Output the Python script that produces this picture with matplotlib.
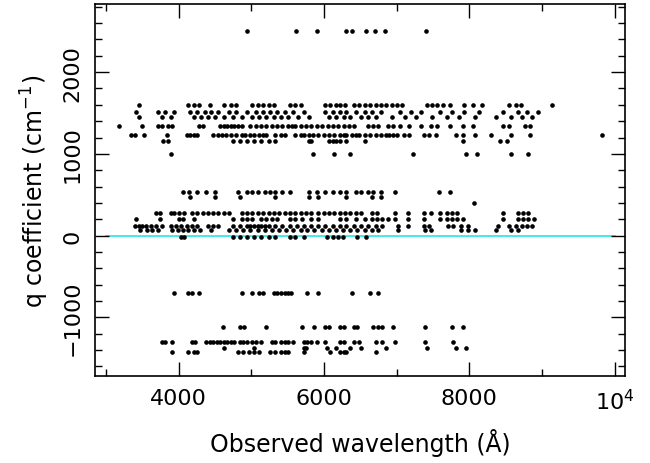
import numpy as np
import matplotlib
matplotlib.use("Agg")
from matplotlib import pyplot as plt
from matplotlib.ticker import MultipleLocator

# Observed wavelengths (Angstrom), grouped by the q coefficient (cm^-1) of each row
wave_q2500 = [4940, 5610, 5910, 6300, 6380, 6580, 6700, 6840, 7400]

wave_q1600 = [3450, 4130, 4210, 4280, 4430, 4620, 4720, 4790, 5010, 5090, 5160, 5240,
              5310, 5530, 5600, 5680, 6020, 6090, 6170, 6220, 6290, 6410, 6480, 6560,
              6630, 6710, 6780, 6850, 6930, 7000, 7070, 7420, 7490, 7560, 7640, 7730,
              7930, 8050, 8180, 8540, 8640, 8710, 9140]

wave_q1510 = [3420, 3720, 3820, 3940, 4160, 4260, 4360, 4450, 4550, 4700, 4790, 4940,
              5060, 5160, 5260, 5360, 5460, 5580, 5730, 6020, 6120, 6220, 6310, 6440,
              6560, 6660, 6780, 7050, 7200, 7340, 7590, 7760, 7930, 8130, 8470, 8670,
              8790, 8940]

wave_q1450 = [3450, 3770, 3890, 4210, 4310, 4400, 4500, 4620, 4750, 4870, 5010, 5110,
              5210, 5310, 5410, 5510, 5650, 5800, 6070, 6170, 6270, 6360, 6510, 6610,
              6710, 6930, 7120, 7270, 7490, 7690, 7860, 8080, 8370, 8570, 8720, 8860]

wave_q1345 = [3180, 3500, 3720, 3770, 3860, 3910, 4280, 4330, 4570, 4620, 4670, 4720,
              4770, 4820, 4870, 4990, 5060, 5140, 5210, 5290, 5360, 5430, 5510, 5560,
              5600, 5680, 5750, 5820, 5900, 5970, 6050, 6120, 6190, 6270, 6340, 6410,
              6610, 6680, 6750, 6880, 6950, 7050, 7170, 7340, 7470, 7560, 7730, 7910,
              8050, 8470, 8540, 8760, 8840]

wave_q1225 = [3350, 3400, 3520, 3840, 4110, 4160, 4210, 4260, 4480, 4550, 4600, 4650,
              4720, 4790, 4870, 4920, 4990, 5040, 5110, 5160, 5210, 5330, 5410, 5460,
              5600, 5680, 5730, 5800, 5850, 5920, 6000, 6070, 6140, 6220, 6270, 6310,
              6390, 6440, 6480, 6560, 6630, 6710, 6780, 6850, 6900, 6950, 7000, 7100,
              7170, 7370, 7440, 7540, 7810, 7910, 8080, 8300, 8570, 8840, 9820]

wave_q1160 = [3790, 3860, 4750, 4840, 4940, 5040, 5140, 5240, 5330, 5800, 5820, 6070,
              6120, 6170, 6220, 6310, 6570, 7910, 8420, 8520]

wave_q1000 = [3890, 5850, 6140, 6360, 7220, 7950, 8100, 8570, 8810]

wave_q530 = [4060, 4150, 4260, 4380, 4500, 4820, 4940, 5010, 5090, 5190, 5260, 5330,
             5430, 5530, 5800, 5900, 6020, 6120, 6220, 6310, 6440, 6510, 6610, 6680,
             6780, 6980, 7580, 7730]

wave_q470 = [4160, 4500, 4840, 5330, 5800, 5920, 6310, 6660, 6780]

wave_q400 = [8070]

wave_q275 = [3690, 3740, 3890, 3940, 4010, 4080, 4180, 4260, 4330, 4400, 4480, 4550,
             4620, 4700, 4870, 4940, 5010, 5090, 5160, 5240, 5310, 5380, 5460, 5530,
             5600, 5680, 5750, 5820, 5920, 6000, 6070, 6140, 6220, 6290, 6360, 6440,
             6510, 6660, 6730, 6980, 7150, 7370, 7470, 7590, 7690, 7760, 7830, 8470,
             8670, 8740, 8810]

wave_q205 = [3420, 3740, 4010, 4060, 4210, 4750, 4870, 4940, 5010, 5140, 5210, 5290,
             5360, 5530, 5600, 5700, 5820, 5920, 6220, 6310, 6440, 6560, 6660, 6730,
             6800, 6880, 6980, 7150, 7370, 7590, 7690, 7760, 7830, 7910, 8470, 8670,
             8740, 8810, 8890]

wave_q120 = [3400, 3450, 3500, 3550, 3620, 3690, 3770, 3890, 3960, 4030, 4110, 4180,
             4260, 4400, 4480, 4550, 4750, 4840, 4940, 4990, 5040, 5090, 5140, 5190,
             5240, 5330, 5430, 5530, 5630, 5730, 5820, 5920, 6020, 6120, 6220, 6310,
             6410, 6510, 6610, 6710, 6800, 7020, 7150, 7370, 7440, 7710, 7780, 7880,
             7980, 8400, 8540, 8640, 8720, 8790, 8860]

wave_q70 = [3470, 3570, 3640, 3720, 3910, 3990, 4060, 4130, 4210, 4300, 4450, 4700,
            4790, 4890, 4990, 5090, 5190, 5280, 5380, 5480, 5580, 5680, 5770, 5870,
            5970, 6070, 6170, 6260, 6360, 6460, 6560, 6660, 6750, 7020, 7390, 7470,
            7880, 7980, 8080, 8370, 8570, 8670]

wave_qm20 = [4030, 4080, 4750, 4840, 4940, 5040, 5140, 5240, 5330, 5530, 5600, 5730,
             6040, 6120, 6190, 6260, 6460, 6580]

wave_qm700 = [3940, 4130, 4180, 4280, 4870, 5010, 5110, 5160, 5310, 5360, 5410, 5460,
              5510, 5550, 5770, 5920, 6390, 6630, 6750]

wave_qm1120 = [4610, 4840, 4900, 5210, 5700, 5870, 6020, 6070, 6220, 6270, 6410, 6460,
               6680, 6750, 6800, 6950, 7390, 7760, 7910]

wave_qm1300 = [3770, 3810, 3910, 4180, 4230, 4380, 4430, 4480, 4530, 4570, 4620, 4670,
               4720, 4770, 4840, 4890, 4940, 5010, 5060, 5140, 5290, 5330, 5410, 5460,
               5510, 5580, 5730, 5770, 5820, 5900, 6020, 6220, 6270, 6410, 6480, 6710,
               6800, 6980, 7390, 7780]

wave_qm1370 = [4620, 5040, 5730, 5750, 6040, 6170, 6360, 6510, 6850, 7420, 7810, 7950]

wave_qm1420 = [3910, 4130, 4210, 4260, 4820, 4890, 4970, 5040, 5110, 5260, 5330, 5410,
               5460, 5510, 5730, 6090, 6220, 6270, 6310, 6710]

rows = [
    (2500, wave_q2500), (1600, wave_q1600), (1510, wave_q1510), (1450, wave_q1450),
    (1345, wave_q1345), (1225, wave_q1225), (1160, wave_q1160), (1000, wave_q1000),
    (530, wave_q530), (470, wave_q470), (400, wave_q400), (275, wave_q275),
    (205, wave_q205), (120, wave_q120), (70, wave_q70), (-20, wave_qm20),
    (-700, wave_qm700), (-1120, wave_qm1120), (-1300, wave_qm1300),
    (-1370, wave_qm1370), (-1420, wave_qm1420),
]

wave = np.concatenate([np.asarray(w, dtype=float) for q, w in rows])
qcoef = np.concatenate([np.full(len(w), q, dtype=float) for q, w in rows])

fig = plt.figure(figsize=(6.5, 4.64), dpi=100)
ax = fig.add_axes([0.146, 0.1875, 0.8154, 0.8015])

ax.plot([3000, 10000], [0, 0], color="#20e8e8", lw=1.2, zorder=1)
ax.scatter(wave, qcoef, s=11, c="black", linewidths=0, zorder=2)

ax.set_xlim(2850, 10140)
ax.set_ylim(-1717, 2832)

ax.xaxis.set_minor_locator(MultipleLocator(1000))
ax.yaxis.set_minor_locator(MultipleLocator(200))

ax.set_xticks([4000, 6000, 8000, 10000])
ax.set_xticklabels(["4000", "6000", "8000", r"$10^4$"])
ax.set_yticks([-1000, 0, 1000, 2000])
ax.set_yticklabels(["\u22121000", "0", "1000", "2000"], rotation=90, va="center")

ax.tick_params(which="both", direction="in", top=True, right=True, width=1.0,
               labelsize=16, pad=9)
ax.tick_params(which="major", length=10)
ax.tick_params(which="minor", length=5)
for sp in ax.spines.values():
    sp.set_linewidth(1.2)

ax.set_xlabel("Observed wavelength (\u00c5)", fontsize=17, labelpad=10)
ax.set_ylabel("q coefficient (cm$^{-1}$)", fontsize=17, labelpad=8)

fig.savefig("out.png", dpi=100)
